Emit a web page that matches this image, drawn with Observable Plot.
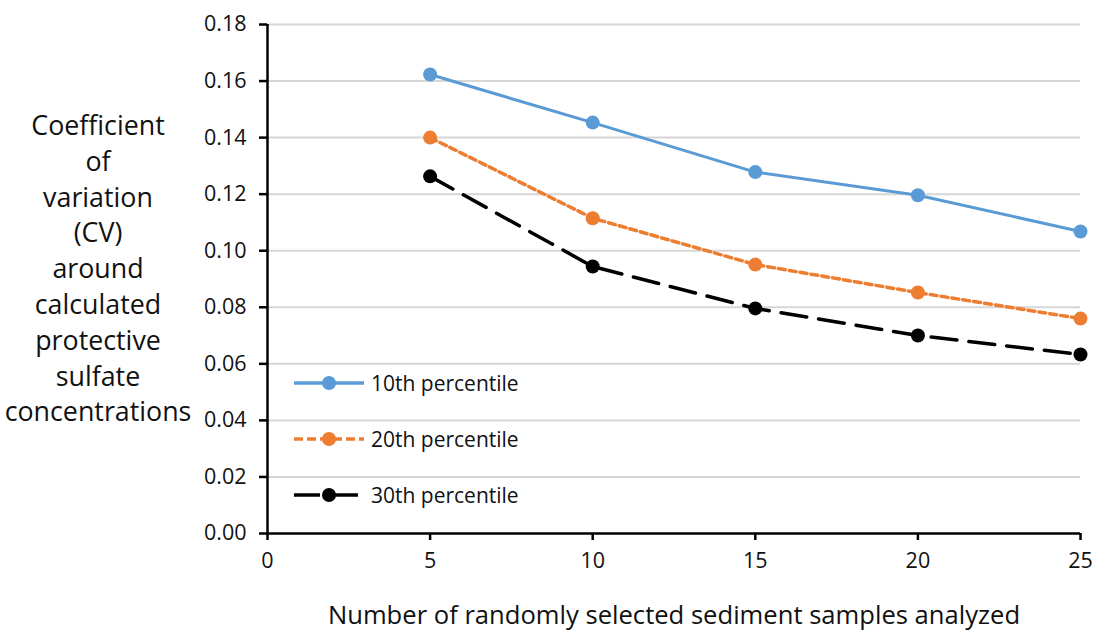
<!DOCTYPE html>
<html>
<head>
<meta charset="utf-8">
<script src="https://cdn.jsdelivr.net/npm/d3@7"></script>
<script src="https://cdn.jsdelivr.net/npm/@observablehq/plot@0.6"></script>
<style>
  html, body { margin: 0; padding: 0; background: #fff; }
  #wrap { position: relative; width: 1094px; height: 638px; font-family: "Open Sans", Lato, sans-serif; }
  #ylab { position: absolute; left: 0; top: 107px; width: 196px; text-align: center; font-size: 26.8px; line-height: 35.8px; color: #111; }
  #legend { position: absolute; left: 292px; top: 355px; font-size: 21px; color: #111; }
  #legend .row { display: flex; align-items: center; height: 56px; }
  #legend svg { margin-right: 5px; }
</style>
</head>
<body>
<div id="wrap">
  <div id="chart"></div>
  <div id="ylab"></div>
  <div id="legend"></div>
</div>
<script>
const samples = [5, 10, 15, 20, 25];
const p10 = [0.1623, 0.1453, 0.1278, 0.1196, 0.1068];
const p20 = [0.1400, 0.1115, 0.0951, 0.0852, 0.0760];
const p30 = [0.1263, 0.0944, 0.0796, 0.0700, 0.0633];
const seriesNames = ["10th percentile", "20th percentile", "30th percentile"];
const colors = ["#5B9BD5", "#ED7D31", "#000000"];
const dashes = [null, "7,4", "26,12"];
const xTicks = [0, 5, 10, 15, 20, 25];
const yTicks = [0, 0.02, 0.04, 0.06, 0.08, 0.10, 0.12, 0.14, 0.16, 0.18];
const yLabelLines = ["Coefficient", "of", "variation", "(CV)", "around", "calculated", "protective", "sulfate", "concentrations"];
const xLabel = "Number of randomly selected sediment samples analyzed";

const allSeries = [p10, p20, p30];
const data = [];
allSeries.forEach((vals, i) => samples.forEach((s, j) => data.push({series: seriesNames[i], x: s, y: vals[j]})));

const marks = [
  Plot.gridY(yTicks.filter(d => d > 0), {stroke: "#d6d6d6", strokeOpacity: 1, strokeWidth: 2}),
  Plot.axisY({ticks: yTicks, tickFormat: d3.format(".2f"), tickSize: 8, tickPadding: 13, fontSize: 21.5, label: null, strokeWidth: 2.5, stroke: "#000"}),
  Plot.axisX({ticks: xTicks, tickFormat: d => d, tickSize: 7, tickPadding: 12, fontSize: 21.5, label: null, strokeWidth: 2.5, stroke: "#000"}),
  Plot.ruleX([0], {stroke: "#000", strokeWidth: 2.5}),
  Plot.ruleY([0], {stroke: "#000", strokeWidth: 2.5}),
];
allSeries.forEach((vals, i) => {
  const d = data.filter(r => r.series === seriesNames[i]);
  marks.push(Plot.line(d, {x: "x", y: "y", stroke: colors[i], strokeWidth: i === 0 ? 3 : 3.5, strokeDasharray: dashes[i]}));
  marks.push(Plot.dot(d, {x: "x", y: "y", fill: colors[i], r: 7}));
});
marks.push(Plot.text([xLabel], {frameAnchor: "bottom", dy: 90, fontSize: 25.6, fill: "#111"}));

const chart = Plot.plot({
  width: 1094,
  height: 638,
  marginLeft: 267,
  marginRight: 14,
  marginTop: 24,
  marginBottom: 105,
  style: {fontFamily: "'Open Sans', Lato, sans-serif", color: "#111", background: "#fff", overflow: "visible"},
  x: {domain: [0, 25]},
  y: {domain: [0, 0.18]},
  marks
});
document.getElementById("chart").appendChild(chart);

document.getElementById("ylab").innerHTML = yLabelLines.map(l => `<div>${l}</div>`).join("");

const leg = document.getElementById("legend");
seriesNames.forEach((name, i) => {
  const row = document.createElement("div");
  row.className = "row";
  row.innerHTML = `<svg width="74" height="20"><line x1="2" y1="10" x2="72" y2="10" stroke="${colors[i]}" stroke-width="3.5" ${dashes[i] ? `stroke-dasharray="${i===1 ? '9,4' : '26,12'}"` : ""}/><circle cx="37" cy="10" r="7" fill="${colors[i]}"/></svg><span>${name}</span>`;
  leg.appendChild(row);
});
</script>
</body>
</html>
